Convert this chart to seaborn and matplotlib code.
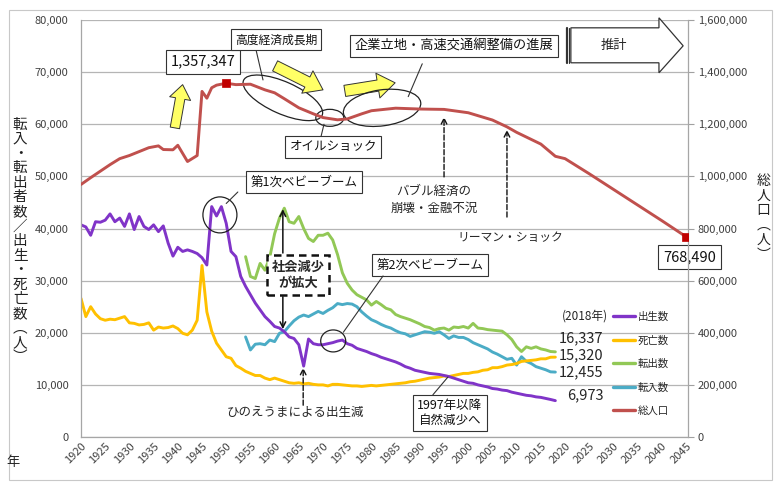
import matplotlib
matplotlib.use("Agg")
import pandas as pd
import matplotlib.pyplot as plt
import matplotlib.patches as mpatches
import matplotlib.transforms as mtransforms
from matplotlib.lines import Line2D
from matplotlib.ticker import FuncFormatter
import seaborn as sns

# -------- DATA --------
vital_years = list(range(1920, 2019))
births = [
    40700, 40300, 38700, 41300, 41200, 41600, 42800, 41300, 42000, 40400,  # 1920s
    42800, 39800, 42300, 40400, 39800, 40700, 39400, 40500, 37200, 34700,  # 1930s
    36400, 35600, 35900, 35600, 35200, 34400, 33000, 44200, 42400, 44200,  # 1940s
    41000, 35600, 34600, 30800, 28900, 27300, 25700, 24400, 23100, 22200,  # 1950s
    21200, 20900, 20200, 19200, 18900, 17700, 13600, 18800, 17900, 17700,  # 1960s
    17700, 17900, 18100, 18400, 18600, 17900, 17600, 17000, 16700, 16400,  # 1970s
    16000, 15700, 15300, 15000, 14700, 14400, 14000, 13500, 13200, 12800,  # 1980s
    12600, 12400, 12200, 12100, 12000, 11800, 11600, 11300, 11000, 10700,  # 1990s
    10400, 10300, 10000, 9800, 9600, 9300, 9200, 9000, 8900, 8600,         # 2000s
    8400, 8200, 8000, 7900, 7700, 7600, 7400, 7200, 6973,                  # 2010s
]
deaths = [
    26600, 23100, 25000, 23600, 22700, 22400, 22600, 22500, 22800, 23100,
    21900, 21800, 21500, 21600, 21900, 20500, 21100, 20900, 21000, 21300,
    20800, 19900, 19600, 20500, 22400, 32900, 24000, 20300, 18000, 16700,
    15400, 15100, 13700, 13200, 12600, 12200, 11800, 11800, 11300, 11000,
    11300, 11000, 10700, 10400, 10300, 10400, 10200, 10300, 10100, 10000,
    10000, 9800, 10100, 10100, 10000, 9900, 9800, 9800, 9700, 9800,
    9900, 9800, 9900, 10000, 10100, 10200, 10300, 10400, 10600, 10700,
    10900, 11100, 11300, 11400, 11500, 11700, 11600, 11800, 12000, 12200,
    12200, 12400, 12500, 12800, 12900, 13300, 13300, 13500, 13800, 13900,
    14100, 14500, 14600, 14700, 14800, 15000, 15000, 15300, 15320,
]

migration_years = list(range(1954, 2019))
moved_out = [
    34600, 30800, 30400, 33300, 32000, 34500,                              # 1954-59
    39000, 42000, 43900, 41300, 41000, 42300, 40000, 38100, 37500, 38700,  # 1960s
    38700, 39100, 37800, 35000, 31500, 29500, 28200, 27300, 26800, 26300,  # 1970s
    25300, 26000, 25400, 24700, 24400, 23500, 23100, 22800, 22500, 22100,  # 1980s
    21700, 21200, 21000, 20500, 20800, 20900, 20500, 21100, 21000, 21200,  # 1990s
    20900, 21800, 20900, 20800, 20600, 20500, 20400, 20300, 19600, 18700,  # 2000s
    17300, 16400, 17300, 17000, 17300, 16900, 16700, 16400, 16337,         # 2010s
]
moved_in = [
    19200, 16700, 17800, 17900, 17700, 18600,
    18300, 19900, 20200, 21300, 22300, 23000, 23400, 23100, 23600, 24100,
    23700, 24300, 24800, 25600, 25400, 25600, 25500, 25000, 24000, 23200,
    22500, 22100, 21600, 21200, 20900, 20400, 20000, 19800, 19300, 19600,
    19900, 20200, 20100, 19900, 20200, 19600, 18900, 19400, 19100, 19100,
    18700, 18100, 17700, 17300, 16900, 16300, 15900, 15400, 14900, 15100,
    13800, 15400, 14500, 14100, 13500, 13200, 12900, 12500, 12455,
]

pop_years = [1920, 1922, 1924, 1926, 1928, 1930, 1932, 1934, 1936, 1937,
             1939, 1940, 1942, 1944, 1945, 1946, 1947, 1948, 1950, 1952,
             1955, 1958, 1960, 1962, 1965, 1968, 1970, 1973, 1975, 1978,
             1980, 1985, 1990, 1995, 2000, 2005, 2008, 2010, 2015, 2018,
             2020, 2025, 2030, 2035, 2040, 2045]
population = [968925, 995000, 1020000, 1045000, 1068000, 1080034, 1095000, 1110000, 1117000, 1103000,
              1102000, 1119338, 1057000, 1080000, 1326000, 1300000, 1340000, 1350000, 1357347, 1352000,
              1353649, 1332000, 1320664, 1298000, 1263103, 1240000, 1225618, 1217000, 1220302, 1240000,
              1251917, 1261662, 1258390, 1256958, 1244147, 1216181, 1190000, 1168924, 1123891, 1077000,
              1068000, 1010000, 950000, 890000, 830000, 768490]

series_names = ["出生数", "死亡数", "転出数", "転入数", "総人口"]
series_colors = ["#8034C8", "#FFC000", "#92C856", "#4BACC6", "#C0504D"]
year_ticks = list(range(1920, 2046, 5))

# -------- LONG TABLE FOR SEABORN --------
flows = pd.concat([
    pd.DataFrame({"year": migration_years, "count": moved_in, "series": "転入数"}),
    pd.DataFrame({"year": migration_years, "count": moved_out, "series": "転出数"}),
    pd.DataFrame({"year": vital_years, "count": deaths, "series": "死亡数"}),
    pd.DataFrame({"year": vital_years, "count": births, "series": "出生数"}),
], ignore_index=True)
line_order = ["転入数", "転出数", "死亡数", "出生数"]
palette = {n: c for n, c in zip(series_names, series_colors)}

# -------- PLOT --------
sns.set_style("white")
plt.rcParams["font.family"] = ["Noto Sans CJK JP", "DejaVu Sans"]

fig = plt.figure(figsize=(7.75, 4.82), dpi=100)
ax = fig.add_axes([81 / 775, 45 / 482, 607 / 775, 417 / 482])
ax2 = ax.twinx()

sns.lineplot(data=flows, x="year", y="count", hue="series", hue_order=line_order,
             palette=palette, linewidth=2.1, legend=False, ax=ax)
sns.lineplot(x=pop_years, y=population, color=palette["総人口"], linewidth=2.1, ax=ax2)
mark_i = [pop_years.index(1950), len(pop_years) - 1]
sns.scatterplot(x=[pop_years[i] for i in mark_i], y=[population[i] for i in mark_i],
                marker="s", s=38, color="#C00000", edgecolor="#C00000", ax=ax2, zorder=5)

# axes
ax.set_xlim(1920, 2045.4)
ax.set_ylim(0, 80000)
ax2.set_ylim(0, 1600000)
ax.set_yticks(range(0, 80001, 10000))
ax2.set_yticks(range(0, 1600001, 200000))
fmt = FuncFormatter(lambda v, p: f"{v:,.0f}")
ax.yaxis.set_major_formatter(fmt)
ax2.yaxis.set_major_formatter(fmt)
ax.set_xticks(year_ticks)
ax.set_xticklabels([str(y) for y in year_ticks], rotation=45, ha="right",
                   rotation_mode="anchor", fontsize=8, color="#404040")
ax.tick_params(axis="x", length=0, pad=3)
ax.tick_params(axis="y", length=0, pad=9, labelsize=8, labelcolor="#404040")
ax2.tick_params(axis="y", length=4, width=0.8, color="#a0a0a0", pad=3, labelsize=8, labelcolor="#404040")
ax.grid(axis="y", color="#b5b5b5", lw=0.9)
ax.grid(axis="x", visible=False)
for a in (ax, ax2):
    a.set_xlabel("")
    a.set_ylabel("")
for s in ["top", "right"]:
    ax.spines[s].set_visible(False)
for s in ["top", "left", "bottom"]:
    ax2.spines[s].set_visible(False)
for sp in (ax.spines["left"], ax.spines["bottom"], ax2.spines["right"]):
    sp.set_color("#a6a6a6")
    sp.set_linewidth(0.9)

# vertical axis titles
left_title = "転入・転出者数／出生・死亡数︵人︶"
right_title = "総人口︵人︶"
fig.text(0.026, 0.50, "\n".join(left_title), ha="center", va="center",
         fontsize=10.5, linespacing=1.05, color="#222222")
fig.text(0.985, 0.548, "\n".join(right_title), ha="center", va="center",
         fontsize=10, linespacing=1.08, color="#222222")
fig.text(0.017, 0.041, "年", ha="center", va="center", fontsize=9.5, color="#222222")

# outer chart frame
fig.add_artist(mpatches.Rectangle((0.0116, 0.004), 0.985, 0.975, transform=fig.transFigure,
                                  fill=False, ec="#c8c8c8", lw=0.8))

# legend
handles = [Line2D([0], [0], color=palette[n], lw=2.4) for n in series_names]
ax.legend(handles, series_names, loc="upper left", bbox_to_anchor=(613 / 775, 1 - 312 / 482),
          bbox_transform=fig.transFigure, frameon=False, fontsize=7.5, handlelength=2.1,
          handletextpad=0.25, labelspacing=1.28, borderpad=0, borderaxespad=0)


# -------- ANNOTATIONS --------
def boxed(x, y, s, size=9, **kw):
    ax.text(x, y, s, ha="center", va="center", fontsize=size, zorder=6, color="#111111",
            bbox=dict(boxstyle="square,pad=0.35", fc="white", ec="#333333", lw=0.8), **kw)


def ring(x, y, w, h, angle=0):
    tr = mtransforms.ScaledTranslation(x, y, ax.transData)
    ax.add_artist(mpatches.Ellipse((0, 0), w, h, angle=angle, transform=tr,
                                   fill=False, ec="#222222", lw=0.9, zorder=6))


def arrow(x0, y0, x1, y1, **props):
    props.setdefault("shrinkA", 0)
    props.setdefault("shrinkB", 0)
    ax.annotate("", xy=(x1, y1), xytext=(x0, y0), arrowprops=props, zorder=6,
                annotation_clip=False)


yellow = dict(arrowstyle="simple,head_length=0.7,head_width=1.0,tail_width=0.45",
              fc="#FFFF66", ec="#333333", lw=0.7, mutation_scale=18)
lead = dict(arrowstyle="-", color="#333333", lw=0.8)
dashed = dict(arrowstyle="->", color="#111111", lw=1.0, ls="--", mutation_scale=10)

i_peak, i_end = mark_i
boxed(1945.2, 72000, f"{population[i_peak]:,}", size=10.5)
boxed(2045.8, 34550, f"{population[i_end]:,}", size=10.5)
arrow(1939.4, 59300, 1941.0, 67600,
      **dict(yellow, arrowstyle="simple,head_length=0.6,head_width=0.9,tail_width=0.4", mutation_scale=17))

boxed(1960.3, 76200, "高度経済成長期", size=8.5)
arrow(1956.2, 74100, 1957.6, 68500, **lead)
ring(1961.7, 65070, 86, 32, angle=-24)
arrow(1960.1, 71200, 1970.0, 66600, **yellow)
arrow(1974.5, 66400, 1984.9, 67950, **yellow)

ring(1971.4, 61230, 28, 17)
boxed(1972.1, 55660, "オイルショック", size=9)
arrow(1970.2, 60000, 1969.6, 57700, **lead)

ring(1982.2, 63150, 78, 36, angle=8)
boxed(1997.1, 75050, "企業立地・高速交通網整備の進展", size=9.5)
arrow(1990.5, 71600, 1987.6, 65300, **lead)

# projection arrow
verts = [(2021.2, 78500), (2039.4, 78500), (2039.4, 80420), (2044.4, 75050),
         (2039.4, 69870), (2039.4, 71790), (2021.2, 71790)]
ax.add_patch(mpatches.Polygon(verts, closed=True, fc="white", ec="#333333", lw=0.9,
                              clip_on=False, zorder=6))
for bx, bw in [(2020.4, 1.6), (2020.8, 0.8)]:
    ax.plot([bx, bx], [71790, 78500], color="#333333", lw=bw, clip_on=False, zorder=6)
ax.text(2030.0, 75050, "推計", ha="center", va="center", fontsize=9.5, zorder=7)

arrow(1995.0, 49900, 1995.0, 61400, **dashed)
ax.text(1992.9, 45500, "バブル経済の\n崩壊・金融不況", ha="center", va="center",
        fontsize=9, linespacing=1.3)
arrow(2008.0, 42200, 2008.0, 58900, **dashed)
ax.text(2008.6, 38200, "リーマン・ショック", ha="center", va="center", fontsize=8.5)

ring(1948.7, 42610, 34, 36)
boxed(1966.1, 48950, "第1次ベビーブーム", size=9)
arrow(1952.4, 47000, 1950.0, 44800, **lead)

ax.text(1964.8, 31090, "社会減少\nが拡大", ha="center", va="center", fontsize=9.5,
        fontweight="bold", linespacing=1.25, zorder=6,
        bbox=dict(boxstyle="square,pad=0.35", fc="white", ec="#111111", lw=1.8, ls=(0, (3, 2))))
arrow(1961.7, 35300, 1961.7, 43700, arrowstyle="->", color="#111111", lw=1.1, mutation_scale=10)
arrow(1961.7, 26900, 1961.7, 20700, arrowstyle="->", color="#111111", lw=1.1, mutation_scale=10)

ring(1972.1, 18430, 25, 22)
boxed(1992.1, 33010, "第2次ベビーブーム", size=9)
arrow(1982.4, 30900, 1974.2, 20100, **lead)

arrow(1965.9, 6100, 1965.9, 13300, **dashed)
ax.text(1964.2, 4800, "ひのえうまによる出生減", ha="center", va="center", fontsize=9)

boxed(1996.2, 4600, "1997年以降\n自然減少へ", size=9, linespacing=1.2)
arrow(1992.7, 8100, 1995.8, 11500, **lead)

# 2018 values
ax.text(2028.9, 23220, "(2018年)", ha="right", va="center", fontsize=8.5)
for yv, val in [(19000, moved_out[-1]), (15740, deaths[-1]), (12480, moved_in[-1]), (8060, births[-1])]:
    ax.text(2027.9, yv, f"{val:,}", ha="right", va="center", fontsize=10.5)

fig.savefig("out.png", dpi=100)
